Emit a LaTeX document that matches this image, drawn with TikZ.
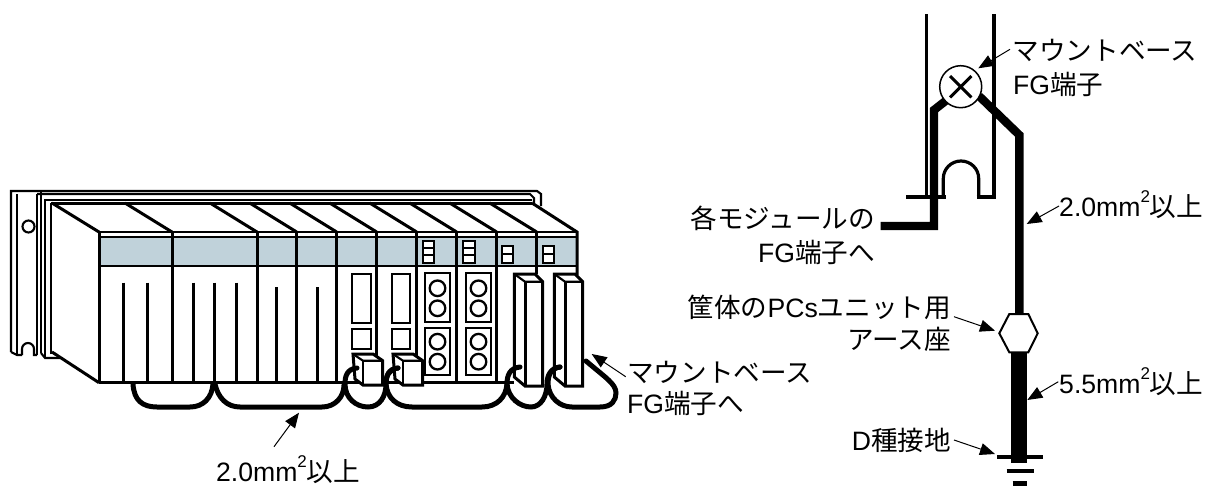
\documentclass[tikz,border=0pt]{standalone}
\usepackage{fontspec}
\usetikzlibrary{arrows.meta}
\setmainfont{Liberation Sans}
\newfontfamily\jpfont{Noto Sans CJK JP}
\newcommand{\J}[1]{{\jpfont #1}}
\newcommand{\sqr}{\raisebox{0.52em}{\fontsize{17}{17}\selectfont 2}}
\definecolor{bandblue}{HTML}{C0D2DA}
\tikzset{
  x=1pt,y=-1pt,
  device/.style={draw=black,line width=3pt,line join=miter},
  railline/.style={draw=black,line width=2.1pt,line join=miter},
  fineline/.style={draw=black,line width=2.3pt},
  bareline/.style={draw=black,line width=3.2pt},
  wire/.style={draw=black,line width=5pt,line cap=round},
  earthwire/.style={draw=black,line width=8.4pt,line join=miter},
  callout/.style={draw=black,line width=1pt,-{Triangle[length=15pt,width=12pt]}},
  label/.style={inner sep=0pt,font=\fontsize{26.6}{30}\selectfont,text=black},
}
\begin{document}
\begin{tikzpicture}
\useasboundingbox (0,0) rectangle (1208,485);
\fill[white] (0,0) rectangle (1208,485);

% mounting rail
\draw[railline] (41,353) -- (41,191);
\draw[railline] (11,352) -- (11,191) -- (537,191) -- (541,194) -- (541,206);
\draw[railline] (17,355) -- (17,194);
\draw[railline] (11,352) -- (17,355) -- (22,355);
\draw[railline] (22,355) -- (22,349) arc[start angle=180,end angle=360,radius=6] -- (34,355) -- (37,355);
\draw[railline] (37,355) -- (37,194);
\draw[railline] (37,194) -- (530,194) -- (534,198) -- (534,203);
\draw[railline] (41,353) -- (45,358) -- (60,358);
\draw[railline] (45,358) -- (45,200) -- (532,200);
\draw[railline] (51,354) -- (51,203);
\draw[railline] (28.5,226.5) circle[radius=6];

% module body
\fill[white] (52,204) -- (532,204) -- (577,232) -- (577,280) -- (497,382) -- (99,382) -- (52,352) -- cycle;
\fill[bandblue] (99,236.7) rectangle (577,266);
\draw[railline] (51,203.5) -- (532,203.5);
\draw[device] (52,203) -- (99,232);
\draw[device] (52,352) -- (99,382.7);
\draw[railline] (99,232) -- (577,232);
\draw[railline] (99,236.7) -- (577,236.7);
\draw[railline] (99,266) -- (577,266);
\draw[device] (99,382.7) -- (514,382.7);
\draw[device] (99,232) -- (99,382.7);
\draw[device] (532,203) -- (577,232) -- (577,275);
\foreach \d in {172,257,296.7,336.7,376.7,416.7,456.7,496.7}{
  \draw[device] (\d,232) -- (\d,382.7);
  \draw[device] (\d-47,203) -- (\d,232);
}
\draw[device] (536.7,232) -- (536.7,274);
\draw[device] (489.7,203) -- (536.7,232);

% vertical slits
\foreach \s in {123,147,193,214.5,236}{\draw[device] (\s,282.7) -- (\s,382.7);}
\foreach \s in {276.7,317}{\draw[device] (\s,287) -- (\s,382.7);}

% indicators in the band
\foreach \s in {422.7,463.3}{
  \draw[railline,fill=white] (\s,240.7) rectangle (\s+11.6,262.7);
  \draw[railline] (\s,247.7) -- (\s+11.6,247.7);
  \draw[railline] (\s,255) -- (\s+11.6,255);
}
\foreach \s in {501.7,542.7}{
  \draw[railline,fill=white] (\s,246) rectangle (\s+11.6,262.7);
  \draw[railline] (\s,254) -- (\s+11.6,254);
}

% windows of modules 5, 6
\foreach \s in {352.3,391.7}{
  \draw[fineline] (\s,274) rectangle (\s+18.4,323.3);
  \draw[fineline] (\s,329.3) rectangle (\s+18.4,349.3);
}
% terminal blocks of modules 7, 8
\foreach \s in {425,466}{
  \draw[fineline] (\s,273.3) rectangle (\s+25,321.7);
  \draw[fineline] (\s,328.3) rectangle (\s+25,375);
  \foreach \c in {288.3,308.3,341.7,361.7}{\draw[fineline] (\s+12.5,\c) circle[radius=7.8];}
}

% small connectors
\foreach \s in {0,40}{
  \begin{scope}[xshift=\s pt]
  \draw[device,fill=white] (353,354) -- (373,354) -- (382.7,360.7) -- (382.7,385) -- (363,385) -- (355,379) -- cycle;
  \draw[railline] (353,354) -- (363,360.7) -- (382.7,360.7);
  \draw[railline] (363,360.7) -- (363,385);
  \end{scope}
}
% tall connectors
\foreach \s in {0,40}{
  \begin{scope}[xshift=\s pt]
  \draw[device,fill=white] (514.3,274) -- (535,274) -- (542.7,281.7) -- (542.7,386) -- (525,386) -- (514.3,377) -- cycle;
  \draw[railline] (514.3,274) -- (525,281.7) -- (542.7,281.7);
  \draw[device] (525,281.7) -- (525,386);
  \end{scope}
}

% bonding wires
\draw[wire] (133,384) .. controls (134,400) and (142,407) .. (157,407) -- (190,407) .. controls (203,407) and (212,398) .. (213,384);
\draw[wire] (215,384) .. controls (218,398) and (227,407) .. (240,407) -- (322,407) .. controls (335,407) and (344,397) .. (344,385);
\draw[wire] (357,368) .. controls (347,369) and (345,376) .. (345,384) .. controls (345,398) and (356,407) .. (368,407) .. controls (380,407) and (386,396) .. (386,384) .. controls (386,376) and (389,369) .. (398,368);
\draw[wire] (398,368) .. controls (388,369) and (386,376) .. (386,384) .. controls (387,398) and (397,407) .. (412,407) -- (482,407) .. controls (497,407) and (506,397) .. (507,384);
\draw[wire] (520,367) .. controls (510,368) and (507,375) .. (507,384) .. controls (508,398) and (520,407) .. (531,407) .. controls (541,407) and (547,396) .. (547,384) .. controls (547,375) and (551,368) .. (560,367);
\draw[wire] (560,367) .. controls (551,368) and (548,375) .. (548,384) .. controls (549,398) and (560,407) .. (572,407) -- (600,407) .. controls (612,407) and (616,400) .. (616,393) .. controls (616,384) and (606,378) .. (586,361);

% right-hand drawing: frame
\draw[bareline] (926.7,14) -- (926.7,196.7);
\draw[bareline] (994,14) -- (994,197);
\draw[bareline] (906,197) -- (946,197);
\draw[bareline] (976.7,197) -- (995.6,197);
\draw[bareline] (943.3,197) -- (943.3,178.5) arc[start angle=180,end angle=360,x radius=17.7,y radius=17.5] -- (978.7,197);

% earth wires
\draw[earthwire] (880.7,226) -- (934,226) -- (934,110) -- (948,99);
\draw[earthwire] (979,96) -- (1019.3,135) -- (1019.3,315);
\draw[draw=black,line width=16.3pt] (1019.2,352) -- (1019.2,462.7);
\draw[draw=black,line width=4pt] (997.3,457.3) -- (1042.7,457.3);
\draw[draw=black,line width=4pt] (1006.7,470.7) -- (1034,470.7);
\draw[draw=black,line width=5pt] (1012.7,483) -- (1027.3,483);

% FG terminal
\node[circle,draw=black,line width=1.5pt,fill=white,minimum size=42pt,inner sep=0pt] (fg) at (960.7,86.7) {};
\draw[line width=3pt] (950,76) -- (971.4,97.4) (971.4,76) -- (950,97.4);
% earth seat
\draw[line width=2pt,fill=white] (1009.3,314) -- (1028.3,314) -- (1037.7,333.3) -- (1028.3,352.3) -- (1009.3,352.3) -- (999.3,333.3) -- cycle;
\coordinate (seat) at (995,330.7);

% labels
\node[label,anchor=west] (mb1) at (1012.5,50) {\J{マウントベース}};
\node[label,anchor=west] (mb2) at (1013,84) {FG\J{端子}};
\node[label,anchor=west] (w20r) at (1059,205) {2.0mm\sqr\J{以上}};
\node[label,anchor=east] (mod1) at (875,218) {\J{各モジュールの}};
\node[label,anchor=east] (mod2) at (875,252) {FG\J{端子へ}};
\node[label,anchor=east] (pcs1) at (951,307) {\J{筐体の}PCs\J{ユニット用}};
\node[label,anchor=east] (pcs2) at (951,339) {\J{アース座}};
\node[label,anchor=west] (w55) at (1059,382) {5.5mm\sqr\J{以上}};
\node[label,anchor=east] (dg) at (951,440) {D\J{種接地}};
\node[label,anchor=west] (mbl1) at (627,372) {\J{マウントベース}};
\node[label,anchor=west] (mbl2) at (627,403) {FG\J{端子へ}};
\node[label,anchor=west] (w20b) at (216,470) {2.0mm\sqr\J{以上}};

% callouts
\coordinate (a1s) at (1010,49.3); \coordinate (a1e) at (978.3,68.3);
\coordinate (a2s) at (1059,206); \coordinate (a2e) at (1026.7,224);
\coordinate (a3s) at (954,316.7);
\coordinate (a4s) at (1058.3,381.7); \coordinate (a4e) at (1027.3,400);
\coordinate (a5s) at (954,440); \coordinate (a5e) at (995,454);
\coordinate (a6s) at (625.7,376.7); \coordinate (a6e) at (591.7,354);
\coordinate (a7s) at (274,446.7); \coordinate (a7e) at (299,412.7);
\draw[callout] (a1s) -- (a1e);
\draw[callout] (a2s) -- (a2e);
\draw[callout] (a3s) -- (seat);
\draw[callout] (a4s) -- (a4e);
\draw[callout] (a5s) -- (a5e);
\draw[callout] (a6s) -- (a6e);
\draw[callout] (a7s) -- (a7e);
\end{tikzpicture}
\end{document}
